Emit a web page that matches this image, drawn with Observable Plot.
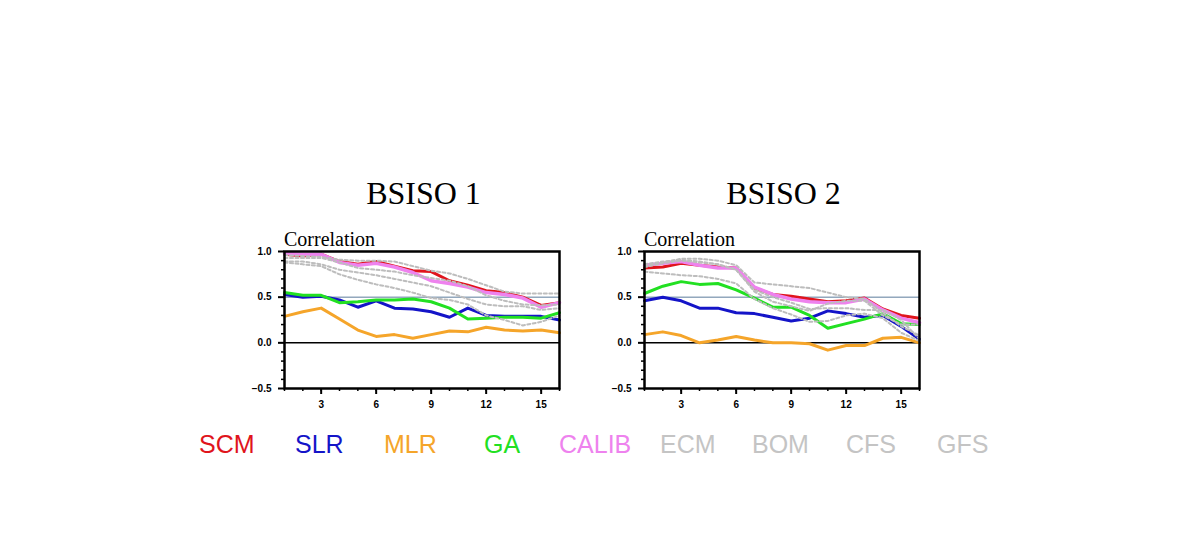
<!DOCTYPE html>
<html><head><meta charset="utf-8">
<script src="https://cdn.jsdelivr.net/npm/d3@7"></script>
<script src="https://cdn.jsdelivr.net/npm/@observablehq/plot@0.6"></script>
<style>
html,body{margin:0;padding:0;background:#fff;}
#root{position:relative;width:1190px;height:542px;overflow:hidden;background:#fff;}
.panel{position:absolute;overflow:visible;}
#overlay{position:absolute;left:0;top:0;}
</style></head><body><div id="root"></div>
<script>
// ---------- data ----------
const days = [1,2,3,4,5,6,7,8,9,10,11,12,13,14,15,16];
const models = ["SCM","SLR","MLR","GA","CALIB","ECM","BOM","CFS","GFS"];
const modelColors = ["#e0141c","#1414c8","#f5a52a","#22e022","#ee82ee","#bdbdbd","#bdbdbd","#bdbdbd","#bdbdbd"];
const panelTitles = ["BSISO 1","BSISO 2"];
const yLabel = "Correlation";
const yMajorTicks = [-0.5,0,0.5,1];
const yMinorTicks = [-0.4,-0.3,-0.2,-0.1,0.1,0.2,0.3,0.4,0.6,0.7,0.8,0.9];
const xMajorTicks = [3,6,9,12,15];

// BSISO 1
const scm1   = [0.97,0.95,0.97,0.89,0.86,0.89,0.84,0.79,0.78,0.68,0.63,0.57,0.55,0.50,0.41,0.44];
const slr1   = [0.53,0.50,0.51,0.47,0.39,0.46,0.38,0.37,0.34,0.28,0.38,0.30,0.29,0.29,0.29,0.25];
const mlr1   = [0.29,0.34,0.38,0.26,0.14,0.07,0.09,0.05,0.09,0.13,0.12,0.17,0.14,0.13,0.14,0.11];
const ga1    = [0.55,0.52,0.52,0.44,0.45,0.47,0.47,0.48,0.45,0.38,0.26,0.27,0.28,0.28,0.27,0.33];
const calib1 = [0.98,0.97,0.97,0.88,0.85,0.87,0.83,0.77,0.68,0.65,0.61,0.55,0.53,0.49,0.39,0.44];
const ecm1   = [0.96,0.95,0.94,0.91,0.90,0.90,0.89,0.84,0.79,0.76,0.70,0.63,0.56,0.54,0.54,0.54];
const bom1   = [0.93,0.93,0.93,0.88,0.82,0.80,0.78,0.74,0.71,0.68,0.62,0.52,0.46,0.42,0.41,0.42];
const cfs1   = [0.89,0.89,0.86,0.80,0.77,0.74,0.70,0.66,0.62,0.55,0.48,0.42,0.40,0.40,0.36,0.38];
const gfs1   = [0.88,0.86,0.84,0.75,0.69,0.64,0.60,0.55,0.49,0.47,0.42,0.30,0.25,0.19,0.23,0.30];

// BSISO 2
const scm2   = [0.82,0.83,0.87,0.85,0.83,0.82,0.60,0.53,0.51,0.48,0.45,0.46,0.49,0.37,0.30,0.27];
const slr2   = [0.46,0.50,0.46,0.38,0.38,0.33,0.32,0.28,0.24,0.27,0.35,0.32,0.28,0.30,0.18,0.04];
const mlr2   = [0.09,0.12,0.08,0.00,0.03,0.07,0.03,0.00,0.00,-0.01,-0.08,-0.03,-0.03,0.05,0.06,0.00];
const ga2    = [0.54,0.62,0.67,0.64,0.65,0.58,0.49,0.39,0.39,0.30,0.16,0.21,0.26,0.32,0.21,0.20];
const calib2 = [0.85,0.87,0.89,0.85,0.82,0.82,0.61,0.53,0.48,0.45,0.44,0.44,0.48,0.36,0.27,0.22];
const ecm2   = [0.84,0.88,0.92,0.92,0.90,0.85,0.66,0.64,0.62,0.60,0.55,0.50,0.48,0.33,0.18,0.08];
const bom2   = [0.86,0.89,0.91,0.89,0.86,0.80,0.58,0.50,0.44,0.37,0.38,0.38,0.36,0.36,0.25,0.04];
const cfs2   = [0.78,0.76,0.74,0.73,0.70,0.65,0.48,0.38,0.31,0.23,0.24,0.30,0.32,0.27,0.11,0.02];
const gfs2   = [0.83,0.87,0.90,0.88,0.86,0.80,0.56,0.45,0.40,0.35,0.43,0.46,0.46,0.30,0.20,0.20];

const panelSeries = [
  [scm1, slr1, mlr1, ga1, calib1, ecm1, bom1, cfs1, gfs1],
  [scm2, slr2, mlr2, ga2, calib2, ecm2, bom2, cfs2, gfs2]
];

// ---------- layout ----------
const root = document.getElementById("root");
const W = 321, H = 171, mL = 40, mR = 6, mT = 6, mB = 28;
const frameLeft = [284, 644];
const panelTop = 245;

panelSeries.forEach((series, p) => {
  const rows = models.flatMap((m, i) => days.map((d, j) => ({model: m, day: d, r: series[i][j]})));
  const marks = [
    Plot.ruleY([0.5], {stroke: "#5b7c9c", strokeWidth: 1}),
    Plot.ruleY([0], {stroke: "#000", strokeWidth: 1.5})
  ];
  models.forEach((m, i) => {
    const gray = i >= 5;
    marks.push(Plot.line(rows.filter(d => d.model === m), {
      x: "day", y: "r",
      stroke: modelColors[i],
      strokeWidth: gray ? 2 : (m === "CALIB" ? 3.5 : 3),
      strokeDasharray: gray ? "3,2.5" : null,
      strokeLinejoin: "round"
    }));
  });
  marks.push(
    Plot.axisY({ticks: yMinorTicks, tickSize: 3, tickFormat: () => "", strokeWidth: 1.5}),
    Plot.axisY({ticks: yMajorTicks, tickSize: 6, tickPadding: 7, tickFormat: d3.format(".1f"), fontWeight: "bold", fontSize: 10, strokeWidth: 2}),
    Plot.axisX({ticks: days, tickSize: 3, tickFormat: () => "", strokeWidth: 1.5}),
    Plot.axisX({ticks: xMajorTicks, tickSize: 6, tickPadding: 6, fontWeight: "bold", fontSize: 10, strokeWidth: 2}),
    Plot.frame({stroke: "#000", strokeWidth: 2.5})
  );
  const chart = Plot.plot({
    width: W, height: H,
    marginLeft: mL, marginRight: mR, marginTop: mT, marginBottom: mB,
    x: {domain: [1, 16], label: null},
    y: {domain: [-0.5, 1.0], label: null},
    style: {fontFamily: "'Liberation Sans', Arial, sans-serif", background: "transparent", color: "#000", overflow: "visible"},
    marks
  });
  chart.classList.add("panel");
  chart.style.left = (frameLeft[p] - mL) + "px";
  chart.style.top = panelTop + "px";
  root.appendChild(chart);
});

// ---------- titles and legend text ----------
const ns = "http://www.w3.org/2000/svg";
const ov = document.createElementNS(ns, "svg");
ov.setAttribute("id", "overlay");
ov.setAttribute("width", 1190);
ov.setAttribute("height", 542);
function addText(str, x, y, opts) {
  const t = document.createElementNS(ns, "text");
  t.textContent = str;
  t.setAttribute("x", x);
  t.setAttribute("y", y);
  for (const k in opts) t.setAttribute(k, opts[k]);
  ov.appendChild(t);
}
panelTitles.forEach((title, p) => {
  const fl = frameLeft[p], fr = frameLeft[p] + W - mL - mR;
  addText(title, (fl + fr) / 2 + 2, 204, {"text-anchor": "middle", "font-family": "'Liberation Serif', 'Times New Roman', serif", "font-size": 32});
  addText(yLabel, fl, 246, {"font-family": "'Liberation Serif', 'Times New Roman', serif", "font-size": 20});
});
const legendX = [199, 295, 384, 484, 559, 660, 752, 846, 937];
models.forEach((m, i) => {
  addText(m, legendX[i], 453, {"font-family": "'Liberation Sans', Arial, sans-serif", "font-size": 25, fill: modelColors[i] === "#bdbdbd" ? "#c4c4c4" : modelColors[i]});
});
root.appendChild(ov);
</script>
</body></html>
